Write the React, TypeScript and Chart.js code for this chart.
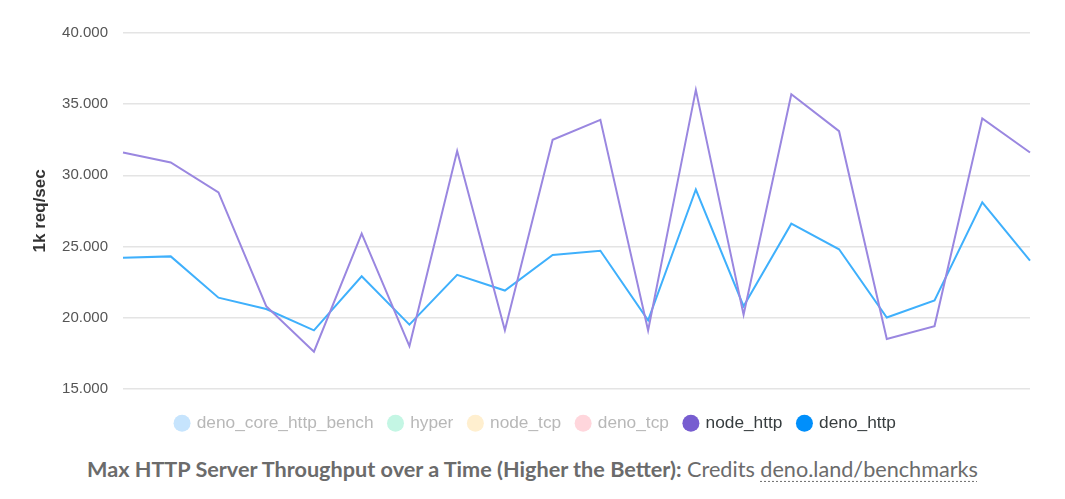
import React, { useEffect, useRef } from "react";
import { Chart, registerables, ChartConfiguration, LegendItem } from "chart.js";

Chart.register(...registerables);

// x categories (no labels are shown on the axis)
const runs = [
  "1", "2", "3", "4", "5", "6", "7", "8", "9", "10",
  "11", "12", "13", "14", "15", "16", "17", "18", "19", "20",
];

// requests per second
const nodeHttp = [
  31600, 30900, 28800, 20800, 17600, 25900, 18000, 31700, 19100, 32500,
  33900, 19100, 36000, 20200, 35700, 33100, 18500, 19400, 34000, 31600,
];
const denoHttp = [
  24200, 24300, 21400, 20600, 19100, 22900, 19500, 23000, 21900, 24400,
  24700, 19800, 29000, 20800, 26600, 24800, 20000, 21200, 28100, 24000,
];

const seriesNames = ["deno_core_http_bench", "hyper", "node_tcp", "deno_tcp", "node_http", "deno_http"];
const seriesHidden = [true, true, true, true, false, false];
const markerColors = ["#c6e4fd", "#c4f6e4", "#ffefcf", "#ffd6dc", "#775dd0", "#008ffb"];
const lineColors = ["#008ffb", "#00e396", "#feb019", "#ff4560", "#9a87e0", "#3fb0fc"];

const yTicks = { min: 15000, max: 40000, step: 5000 };

const fmt = (v: number) => String(Math.round(v)).replace(/\B(?=(\d{3})+(?!\d))/g, ".");

export default function App() {
  const canvasRef = useRef<HTMLCanvasElement | null>(null);
  const chartRef = useRef<Chart | null>(null);

  useEffect(() => {
    const canvas = canvasRef.current;
    if (!canvas) return;

    if (chartRef.current) chartRef.current.destroy();

    const values = [[], [], [], [], nodeHttp, denoHttp] as number[][];

    const config: ChartConfiguration<"line", number[], string> = {
      type: "line",
      data: {
        labels: runs,
        datasets: seriesNames.map((name, i) => ({
          label: name,
          data: values[i],
          hidden: seriesHidden[i],
          borderColor: lineColors[i],
          backgroundColor: lineColors[i],
          borderWidth: 2,
          pointRadius: 0,
          tension: 0,
          fill: false,
        })),
      },
      options: {
        animation: false,
        responsive: true,
        maintainAspectRatio: false,
        layout: { padding: { top: 25, left: 34, right: 27, bottom: 3 } },
        scales: {
          x: {
            grid: { display: false },
            border: { display: false },
            ticks: { display: false },
            afterFit: (scale) => {
              scale.height = 10;
            },
          },
          y: {
            min: yTicks.min,
            max: yTicks.max,
            afterFit: (scale) => {
              scale.width = 81;
            },
            border: { display: false },
            grid: { color: "#e4e4e4", lineWidth: 1.5, drawTicks: false },
            title: {
              display: true,
              text: "1k req/sec",
              color: "#333",
              font: { family: "Liberation Sans", size: 17, weight: "bold" },
              padding: { top: -12, bottom: 0 },
            },
            ticks: {
              stepSize: yTicks.step,
              padding: 15,
              color: "#555",
              font: { family: "Liberation Sans", size: 15 },
              callback: (v) => fmt(Number(v)),
            },
          },
        },
        plugins: {
          tooltip: { enabled: false },
          legend: {
            position: "bottom",
            labels: {
              usePointStyle: true,
              pointStyle: "circle",
              boxWidth: 12,
              boxHeight: 12,
              padding: 16,
              font: { family: "Liberation Sans", size: 17.3 },
              generateLabels: (chart): LegendItem[] =>
                chart.data.datasets.map((ds, i) => ({
                  text: ds.label as string,
                  fillStyle: markerColors[i],
                  strokeStyle: markerColors[i],
                  lineWidth: 0,
                  pointStyle: "circle",
                  hidden: false,
                  fontColor: seriesHidden[i] ? "#b8b8b8" : "#373d3f",
                  datasetIndex: i,
                })),
            },
          },
        },
      },
    };

    chartRef.current = new Chart(canvas, config);

    return () => {
      if (chartRef.current) {
        chartRef.current.destroy();
        chartRef.current = null;
      }
    };
  }, []);

  return (
    <div style={{ width: 1049 }}>
      <div style={{ position: "relative", height: 437 }}>
        <canvas ref={canvasRef}></canvas>
      </div>
      <div
        style={{
          textAlign: "center",
          fontFamily: "Lato",
          fontSize: 21.65,
          color: "#6b6b6b",
          marginTop: 11,
        }}
      >
        <b>Max HTTP Server Throughput over a Time (Higher the Better):</b> Credits{" "}
        <span
          style={{
            textDecorationLine: "underline",
            textDecorationStyle: "dotted",
            textDecorationColor: "#777",
            textUnderlineOffset: 4,
          }}
        >
          deno.land/benchmarks
        </span>
      </div>
    </div>
  );
}
